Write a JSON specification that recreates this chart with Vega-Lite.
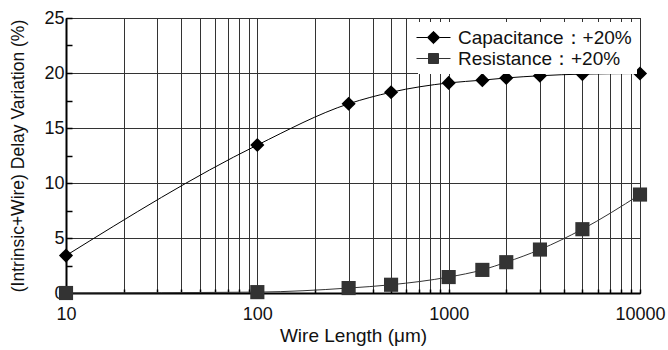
{
  "$schema": "https://vega.github.io/schema/vega-lite/v6.json",
  "width": 574,
  "height": 275,
  "autosize": {"type": "none"},
  "padding": {"left": 66, "top": 18, "right": 28, "bottom": 57},
  "background": "white",
  "config": {
    "font": "Liberation Sans",
    "view": {"stroke": "#000", "strokeWidth": 1},
    "axis": {
      "labelFont": "Liberation Sans",
      "titleFont": "Liberation Sans",
      "labelFontSize": 18,
      "titleFontSize": 19,
      "labelColor": "#111",
      "titleColor": "#111",
      "titleFontWeight": "normal",
      "domainColor": "#000",
      "domainWidth": 2,
      "tickColor": "#000",
      "tickWidth": 1.5,
      "gridColor": "#333",
      "gridWidth": 1,
      "gridOpacity": 1
    }
  },
  "data": {
    "values": [
      {"len": 10, "v": 3.4, "series": "Capacitance：+20%"},
      {"len": 100, "v": 13.45, "series": "Capacitance：+20%"},
      {"len": 300, "v": 17.2, "series": "Capacitance：+20%"},
      {"len": 500, "v": 18.25, "series": "Capacitance：+20%"},
      {"len": 1000, "v": 19.1, "series": "Capacitance：+20%"},
      {"len": 1500, "v": 19.35, "series": "Capacitance：+20%"},
      {"len": 2000, "v": 19.55, "series": "Capacitance：+20%"},
      {"len": 3000, "v": 19.75, "series": "Capacitance：+20%"},
      {"len": 5000, "v": 19.9, "series": "Capacitance：+20%"},
      {"len": 10000, "v": 19.95, "series": "Capacitance：+20%"},
      {"len": 10, "v": 0, "series": "Resistance：+20%"},
      {"len": 100, "v": 0.08, "series": "Resistance：+20%"},
      {"len": 300, "v": 0.45, "series": "Resistance：+20%"},
      {"len": 500, "v": 0.75, "series": "Resistance：+20%"},
      {"len": 1000, "v": 1.45, "series": "Resistance：+20%"},
      {"len": 1500, "v": 2.1, "series": "Resistance：+20%"},
      {"len": 2000, "v": 2.8, "series": "Resistance：+20%"},
      {"len": 3000, "v": 3.95, "series": "Resistance：+20%"},
      {"len": 5000, "v": 5.8, "series": "Resistance：+20%"},
      {"len": 10000, "v": 8.95, "series": "Resistance：+20%"}
    ]
  },
  "encoding": {
    "x": {
      "field": "len",
      "type": "quantitative",
      "scale": {"type": "log", "domain": [10, 10000], "nice": false},
      "axis": {
        "title": "Wire Length (μm)",
        "grid": true,
        "values": [10, 20, 30, 40, 50, 60, 70, 80, 90, 100, 200, 300, 400, 500, 600, 700, 800, 900, 1000, 2000, 3000, 4000, 5000, 6000, 7000, 8000, 9000, 10000],
        "format": "d",
        "labelExpr": "(datum.value == 10 || datum.value == 100 || datum.value == 1000 || datum.value == 10000) ? datum.label : ''",
        "labelOverlap": false,
        "labelBound": false,
        "labelFlush": false,
        "tickSize": -4,
        "labelPadding": 16,
        "titlePadding": 3
      }
    },
    "y": {
      "field": "v",
      "type": "quantitative",
      "scale": {"domain": [0, 25], "nice": false},
      "axis": {
        "title": "(Intrinsic+Wire) Delay Variation (%)",
        "titleFontSize": 17.5,
        "values": [0, 2.5, 5, 7.5, 10, 12.5, 15, 17.5, 20, 22.5, 25],
        "labelExpr": "datum.value % 5 === 0 ? datum.label : ''",
        "gridOpacity": {"condition": {"test": "datum.value % 5 === 0", "value": 1}, "value": 0},
        "tickSize": -6,
        "labelPadding": 8,
        "titlePadding": 16
      }
    },
    "color": {
      "field": "series",
      "type": "nominal",
      "scale": {"range": ["#000000", "#333333"]},
      "legend": {
        "title": null,
        "orient": "none",
        "legendX": 352,
        "legendY": 4,
        "strokeColor": null,
        "fillColor": "white",
        "padding": 5,
        "labelFont": "Liberation Sans",
        "labelFontSize": 19,
        "labelColor": "#111",
        "labelOffset": 14,
        "labelLimit": 0,
        "rowPadding": 0,
        "symbolSize": 400,
        "symbolStrokeWidth": 1,
        "encode": {
          "symbols": {
            "update": {
              "shape": {"signal": "indexof(datum.label, 'Cap') === 0 ? 'M-1.7,0H-0.6M0.6,0H1.7M0,-0.62L0.62,0L0,0.62L-0.62,0Z' : 'M-1.7,0H-0.5M0.5,0H1.7M-0.5,-0.5H0.5V0.5H-0.5Z'"},
              "fill": {"signal": "indexof(datum.label, 'Cap') === 0 ? '#000' : '#333'"},
              "stroke": {"signal": "indexof(datum.label, 'Cap') === 0 ? '#000' : '#333'"},
              "strokeWidth": {"value": 1},
              "opacity": {"value": 1}
            }
          }
        }
      }
    }
  },
  "layer": [
    {
      "mark": {"type": "line", "interpolate": "monotone", "strokeWidth": 1, "clip": false},
      "encoding": {"detail": {"field": "series"}}
    },
    {
      "mark": {"type": "point", "filled": true, "opacity": 1, "size": 200, "clip": false},
      "encoding": {
        "shape": {
          "field": "series",
          "type": "nominal",
          "scale": {"range": ["diamond", "square"]},
          "legend": null
        }
      }
    }
  ]
}
